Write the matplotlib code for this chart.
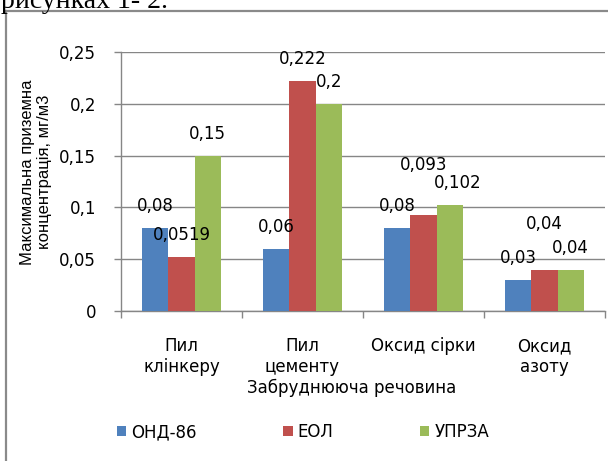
import matplotlib
matplotlib.use("Agg")
import matplotlib.pyplot as plt
import numpy as np
from matplotlib.lines import Line2D

categories = ["Пил\nклінкеру", "Пил\nцементу", "Оксид сірки", "Оксид\nазоту"]
series_names = ["ОНД-86", "ЕОЛ", "УПРЗА"]
ond86 = [0.08, 0.06, 0.08, 0.03]
eol = [0.0519, 0.222, 0.093, 0.04]
uprza = [0.15, 0.2, 0.102, 0.04]
yticks = [0, 0.05, 0.1, 0.15, 0.2, 0.25]
ylabel = "Максимальна приземна\nконцентрація, мг/м3"
xlabel = "Забруднююча речовина"
top_text = "рисунках 1- 2."

colors = ["#4F81BD", "#C0504D", "#9BBB59"]
grid_c = "#868686"
plt.rcParams['font.family'] = ['DejaVu Sans']
FS = 12

fig = plt.figure(figsize=(6.08, 4.61), dpi=100)
ax = fig.add_axes([121/608, 1-311/461, (605-121)/608, (311-52)/461])

series = [ond86, eol, uprza]
bw = 0.217
x = np.arange(len(categories)) + 0.5
# label nudges in pixels (series index, category index) -> (dx, dy)
nudges = {(1, 2): (0, 28), (1, 3): (0, 24), (2, 2): (8, 0)}
for si, vals in enumerate(series):
    xs = x + (si - 1) * bw
    ax.bar(xs, vals, width=bw, color=colors[si], zorder=3, label=series_names[si])
    for ci, (xx, v) in enumerate(zip(xs, vals)):
        dx, dy = nudges.get((si, ci), (0, 0))
        ax.annotate(str(v).replace('.', ','), (xx, v), xytext=(dx, 22 + dy),
                    textcoords='offset pixels', ha='center', va='center',
                    fontsize=FS, zorder=5)

ax.set_xlim(0, len(categories))
ax.set_ylim(0, 0.25)
ax.set_yticks(yticks)
ax.set_yticklabels([("%g" % t).replace('.', ',') for t in yticks], fontsize=FS)
ax.yaxis.grid(True, color=grid_c, lw=1, zorder=0)
ax.set_xticks(np.arange(len(categories) + 1))
ax.set_xticklabels([])
ax.set_xticks(x, minor=True)
ax.set_xticklabels(categories, minor=True, fontsize=FS, linespacing=1.2)
ax.tick_params(axis='x', which='minor', length=0, pad=19)
ax.tick_params(axis='x', which='major', length=5, color=grid_c, width=1)
ax.tick_params(axis='y', length=5, color=grid_c, width=1, pad=13)
for s in ['top', 'right']:
    ax.spines[s].set_visible(False)
for s in ['left', 'bottom']:
    ax.spines[s].set_color(grid_c)
    ax.spines[s].set_linewidth(1)

fig.text(36/608, 1-172/461, ylabel, rotation=90, ha='center', va='center',
         fontsize=FS, linespacing=1.2, family=['Liberation Sans', 'DejaVu Sans'])
fig.text(352/608, 1-388/461, xlabel, ha='center', va='center', fontsize=FS)

leg = ax.legend(loc='center left', bbox_to_anchor=(117/608, 1-432/461),
                bbox_transform=fig.transFigure, ncol=3, frameon=False,
                fontsize=FS, handlelength=0.55, handleheight=0.55,
                handletextpad=0.3, columnspacing=5.2, borderaxespad=0,
                borderpad=0)

# frame and cut-off text above
fig.add_artist(Line2D([6/608, 6/608], [0, 1-11/461], transform=fig.transFigure,
                      color="#8a8a8a", lw=1.6))
fig.add_artist(Line2D([6/608, 1], [1-11/461, 1-11/461], transform=fig.transFigure,
                      color="#8a8a8a", lw=1.6))
fig.text(1/608, 1-8/461, top_text, ha='left', va='baseline', fontsize=20,
         family=['Liberation Serif', 'DejaVu Serif'])

fig.savefig("out.png", dpi=100)
